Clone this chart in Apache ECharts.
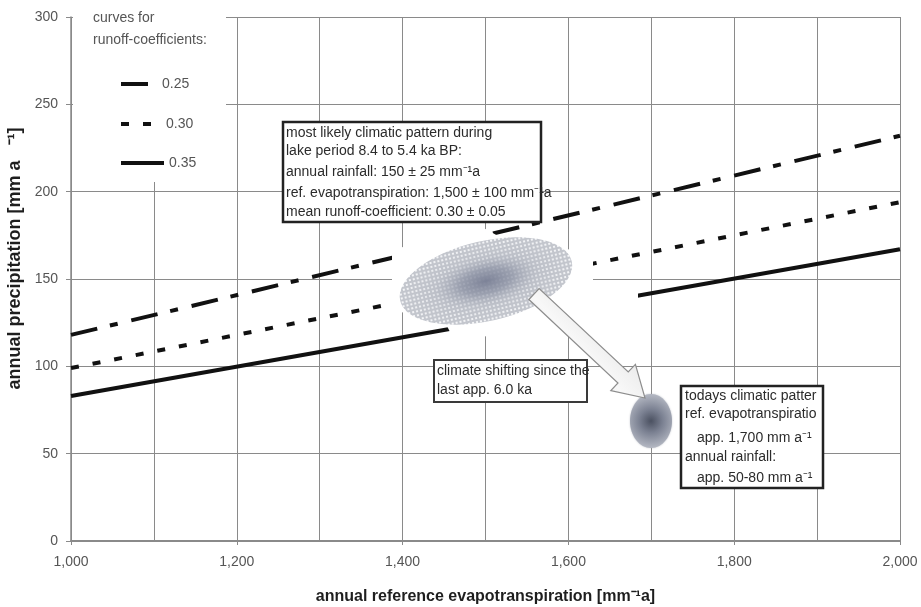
<!DOCTYPE html>
<html>
<head>
<meta charset="utf-8">
<script src="https://cdn.jsdelivr.net/npm/echarts@6/dist/echarts.min.js"></script>
<style>
  html, body { margin: 0; padding: 0; background: #ffffff; }
  #chart { width: 921px; height: 607px; }
</style>
</head>
<body>
<div id="chart"></div>
<script>
// Reference evapotranspiration (mm/a) at the ends of each runoff-coefficient curve
const evapotranspiration = [1000, 2000];
// Annual precipitation (mm/a) needed for each runoff coefficient
const coefficientNames = ['0.25', '0.30', '0.35'];
const precip025 = [118, 232];
const precip030 = [99, 194];
const precip035 = [83, 167];

const FONT_UI = "'Liberation Sans', Arial, sans-serif";
const FONT_NOTE = "'Liberation Sans', Arial, sans-serif";

const chart = echarts.init(document.getElementById('chart'), null, { renderer: 'canvas' });

function pairs(ys) {
  return evapotranspiration.map((x, i) => [x, ys[i]]);
}

// Dotted texture used for the wide climate ellipse
const dotTile = document.createElement('canvas');
dotTile.width = 4; dotTile.height = 4;
(function () {
  const c = dotTile.getContext('2d');
  c.fillStyle = '#c3c6cd';
  c.fillRect(0, 0, 4, 4);
  c.fillStyle = '#f4f5f7';
  c.fillRect(1, 1, 2, 2);
})();

const deg = Math.PI / 180;

// Arrow from the lake-period pattern to today's pattern
function arrowPoints(sx, sy, tx, ty, shaftHalf, headHalf, headLen) {
  const dx = tx - sx, dy = ty - sy;
  const len = Math.sqrt(dx * dx + dy * dy);
  const ux = dx / len, uy = dy / len;
  const nx = -uy, ny = ux;
  const bx = tx - ux * headLen, by = ty - uy * headLen;
  return [
    [sx + nx * shaftHalf, sy + ny * shaftHalf],
    [bx + nx * shaftHalf, by + ny * shaftHalf],
    [bx + nx * headHalf, by + ny * headHalf],
    [tx, ty],
    [bx - nx * headHalf, by - ny * headHalf],
    [bx - nx * shaftHalf, by - ny * shaftHalf],
    [sx - nx * shaftHalf, sy - ny * shaftHalf]
  ];
}

function noteLines(x, y0, lines, opts) {
  return lines.map(t => ({
    type: 'text',
    x: x + (t.indent || 0),
    y: y0 + t.dy,
    z: 21,
    style: Object.assign({
      text: t.text,
      fill: '#2b2b2b',
      fontSize: 14,
      fontFamily: FONT_NOTE,
      verticalAlign: 'middle',
      align: 'left'
    }, opts || {})
  }));
}

const legendText = { color: '#555555', fontSize: 14, fontFamily: FONT_UI, padding: [0, 0, 0, 8] };
const legendBase = {
  itemHeight: 14, selectedMode: false, z: 6,
  itemStyle: { color: 'rgba(0,0,0,0)', borderWidth: 0, opacity: 0 },
  lineStyle: { width: 4, color: '#111111' }
};

const option = {
  animation: false,
  backgroundColor: '#ffffff',
  color: ['#111111', '#111111', '#111111'],
  grid: { left: 71, right: 21, top: 17, bottom: 66, containLabel: false, outerBoundsMode: 'none' },
  xAxis: {
    type: 'value',
    min: 1000, max: 2000, interval: 200,
    name: 'annual reference evapotranspiration [mm\u207B\u00B9a]',
    nameLocation: 'middle', nameGap: 48,
    nameTextStyle: { color: '#1e1e1e', fontSize: 16, fontWeight: 'bold', fontFamily: FONT_UI },
    axisLine: { lineStyle: { color: '#8a8a8a', width: 2 } },
    axisTick: { show: true, length: 4, lineStyle: { color: '#8a8a8a' } },
    axisLabel: {
      color: '#555555', fontSize: 14, fontFamily: FONT_UI, margin: 14,
      formatter: v => v.toLocaleString('en-US')
    },
    splitLine: { show: true, lineStyle: { color: '#8a8a8a', width: 1 } },
    minorTick: { show: false, splitNumber: 2 },
    minorSplitLine: { show: true, lineStyle: { color: '#8a8a8a', width: 1 } }
  },
  yAxis: {
    type: 'value',
    min: 0, max: 300, interval: 50,
    name: 'annual precipitation [mm a   \u207B\u00B9]',
    nameLocation: 'middle', nameGap: 42,
    nameTextStyle: { color: '#1e1e1e', fontSize: 18, fontWeight: 'bold', fontFamily: FONT_UI, padding: [0, 0, 0, 41] },
    axisLine: { show: true, lineStyle: { color: '#8a8a8a', width: 1.5 } },
    axisTick: { show: true, length: 5, lineStyle: { color: '#8a8a8a' } },
    axisLabel: { color: '#555555', fontSize: 14, fontFamily: FONT_UI, margin: 13 },
    splitLine: { show: true, lineStyle: { color: '#8a8a8a', width: 1 } }
  },
  legend: [
    Object.assign({ data: [coefficientNames[0]], left: 114, top: 72, itemWidth: 28, textStyle: legendText }, legendBase),
    Object.assign({ data: [coefficientNames[1]], left: 114, top: 112, itemWidth: 32, textStyle: legendText }, legendBase),
    Object.assign({ data: [coefficientNames[2]], left: 114, top: 151, itemWidth: 43, textStyle: Object.assign({}, legendText, { padding: [0, 0, 0, 0] }) }, legendBase)
  ],
  series: [
    {
      name: coefficientNames[0], type: 'line', data: pairs(precip025),
      symbol: 'none', z: 2,
      lineStyle: { color: '#111111', width: 4, type: [27, 13, 8, 14], cap: 'butt' }
    },
    {
      name: coefficientNames[1], type: 'line', data: pairs(precip030),
      symbol: 'none', z: 2,
      lineStyle: { color: '#111111', width: 4, type: [8, 14], cap: 'butt' }
    },
    {
      name: coefficientNames[2], type: 'line', data: pairs(precip035),
      symbol: 'none', z: 2,
      lineStyle: { color: '#111111', width: 4, type: 'solid', cap: 'butt' }
    }
  ],
  graphic: [
    // white panel behind the legend
    { type: 'rect', z: 3, shape: { x: 73, y: 8, width: 153, height: 174 }, style: { fill: '#ffffff' } },
    { type: 'text', z: 7, x: 93, y: 18, style: { text: 'curves for', fill: '#555555', fontSize: 14, fontFamily: FONT_UI, verticalAlign: 'middle' } },
    { type: 'text', z: 7, x: 93, y: 40, style: { text: 'runoff-coefficients:', fill: '#555555', fontSize: 14, fontFamily: FONT_UI, verticalAlign: 'middle' } },

    // white backdrop of the ellipse and arrow drawing
    {
      type: 'polygon', z: 3,
      shape: { points: [[392, 250], [480, 226], [520, 248], [593, 250], [593, 286], [638, 288], [638, 308], [455, 342], [445, 322], [392, 310]] },
      style: { fill: '#ffffff' }
    },

    // lake-period climate ellipse
    { type: 'ellipse', z: 10, x: 486, y: 281, rotation: 13 * deg, shape: { cx: 0, cy: 0, rx: 88, ry: 40 }, style: { fill: { image: dotTile, repeat: 'repeat' } } },
    {
      type: 'circle', z: 11, x: 486, y: 281, rotation: 13 * deg, scaleX: 2.2, scaleY: 1,
      shape: { cx: 0, cy: 0, r: 40 },
      style: {
        fill: {
          type: 'radial', x: 0.5, y: 0.5, r: 0.5,
          colorStops: [
            { offset: 0, color: 'rgba(120,126,148,0.95)' },
            { offset: 0.3, color: 'rgba(140,146,164,0.75)' },
            { offset: 0.6, color: 'rgba(175,179,190,0.3)' },
            { offset: 1, color: 'rgba(195,198,205,0)' }
          ]
        }
      }
    },

    // shift arrow
    {
      type: 'polygon', z: 12,
      shape: { points: arrowPoints(534, 294, 645, 398, 7.5, 18, 30) },
      style: {
        fill: {
          type: 'linear', x: 0, y: 1, x2: 1, y2: 0,
          colorStops: [
            { offset: 0, color: '#bdbdbd' },
            { offset: 0.45, color: '#f8f8f8' },
            { offset: 1, color: '#d2d2d2' }
          ]
        },
        stroke: '#8d8d8d', lineWidth: 1.2
      }
    },

    // present-day climate spot
    {
      type: 'ellipse', z: 10, shape: { cx: 651, cy: 421, rx: 21, ry: 27 },
      style: {
        fill: {
          type: 'radial', x: 0.5, y: 0.5, r: 0.62,
          colorStops: [
            { offset: 0, color: '#4b5161' },
            { offset: 0.45, color: '#7b8192' },
            { offset: 1, color: '#b1b5c0' }
          ]
        },
        shadowBlur: 2, shadowColor: 'rgba(150,155,168,0.6)'
      }
    },

    // note: lake period pattern
    { type: 'rect', z: 20, shape: { x: 283, y: 122, width: 258, height: 100 }, style: { fill: '#ffffff', stroke: '#222222', lineWidth: 2.5 } },
    ...noteLines(286, 133, [
      { text: 'most likely climatic pattern during', dy: 0 },
      { text: 'lake period 8.4 to 5.4 ka BP:', dy: 18 },
      { text: 'annual rainfall: 150 \u00B1 25 mm\u207B\u00B9a', dy: 39 },
      { text: 'ref. evapotranspiration: 1,500 \u00B1 100 mm\u207B\u00B9a', dy: 60 },
      { text: 'mean runoff-coefficient: 0.30 \u00B1 0.05', dy: 79 }
    ]),

    // note: climate shift
    { type: 'rect', z: 20, shape: { x: 434, y: 360, width: 153, height: 42 }, style: { fill: '#ffffff', stroke: '#3a3a3a', lineWidth: 2 } },
    ...noteLines(437, 371, [
      { text: 'climate shifting since the', dy: 0 },
      { text: 'last app. 6.0 ka', dy: 19 }
    ]),

    // note: present-day pattern
    { type: 'rect', z: 20, shape: { x: 681, y: 386, width: 142, height: 102 }, style: { fill: '#ffffff', stroke: '#222222', lineWidth: 2.5 } },
    ...noteLines(685, 396, [
      { text: 'todays climatic pattern', dy: 0 },
      { text: 'ref. evapotranspiration:', dy: 18 },
      { text: 'app. 1,700 mm a\u207B\u00B9', dy: 42, indent: 12 },
      { text: 'annual rainfall:', dy: 61 },
      { text: 'app. 50-80 mm a\u207B\u00B9', dy: 82, indent: 12 }
    ], { width: 137, overflow: 'truncate', ellipsis: '' })
  ]
};

chart.setOption(option);
</script>
</body>
</html>
